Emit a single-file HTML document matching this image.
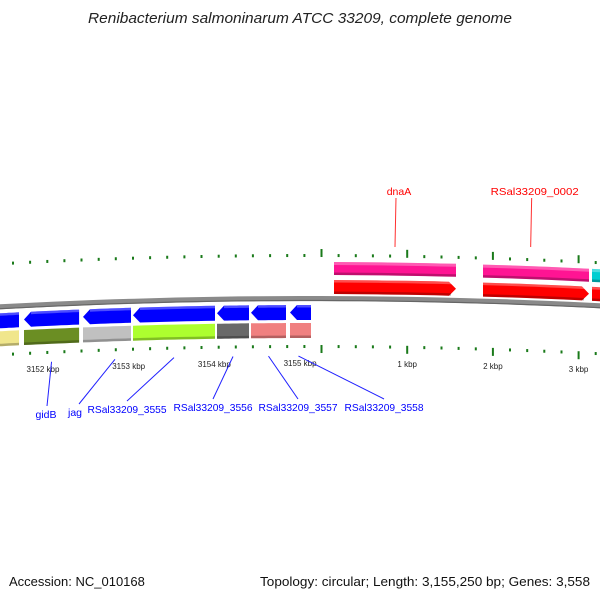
<!DOCTYPE html>
<html><head><meta charset="utf-8"><style>
html,body{margin:0;padding:0;background:#fff;}
svg{display:block;}
text{font-family:"Liberation Sans",sans-serif;}
</style></head><body>
<svg id="map" width="600" height="600" viewBox="0 0 600 600" xmlns="http://www.w3.org/2000/svg">
<text x="88" y="23" textLength="424" lengthAdjust="spacingAndGlyphs" font-size="14.5" font-style="italic" fill="#222">Renibacterium salmoninarum ATCC 33209, complete genome</text>
<text x="9" y="586" font-size="13" fill="#111">Accession: NC_010168</text>
<text x="260" y="586" textLength="330" lengthAdjust="spacingAndGlyphs" font-size="13" fill="#111">Topology: circular; Length: 3,155,250 bp; Genes: 3,558</text>
<g id="layer"></g>
</svg>
<script>
const genomeLength = 3155250;
// forward strand genes (bp)
const fwdStarts = [146, 1884, 3156];
const fwdEnds = [1569, 3121, 3600];
const fwdNames = ["dnaA", "RSal33209_0002", ""];
// reverse strand genes (bp)
const revStarts = [3151400, 3151779, 3152467, 3153050, 3154031, 3154427, 3154882];
const revEnds = [3151720, 3152421, 3153027, 3154007, 3154404, 3154836, 3155127];
const revNames = ["", "gidB", "jag", "RSal33209_3555", "RSal33209_3556", "RSal33209_3557", "RSal33209_3558"];
const revCogColors = ["#f0e68c", "#6b8e23", "#c0c0c0", "#adff2f", "#696969", "#f08080", "#f08080"];
const fwdCogColors = ["#ff1493", "#ff1493", "#00ced1"];
const kbpTicks = [3152000, 3153000, 3154000, 3155000, 1000, 2000, 3000];
const kbpLabels = ["3152 kbp", "3153 kbp", "3154 kbp", "3155 kbp", "1 kbp", "2 kbp", "3 kbp"];

const NS = "http://www.w3.org/2000/svg";
const layer = document.getElementById("layer");
const PX = 0.0857, X0 = 321.5, CX = 310, R = 5800;
function rel(p){ return p > genomeLength/2 ? p - genomeLength : p; }
function xOf(p){ return X0 + rel(p)*PX; }
function dy(x){ return (x-CX)*(x-CX)/(2*R); }
function mk(tag, attrs){ const e=document.createElementNS(NS,tag); for(const k in attrs) e.setAttribute(k,attrs[k]); layer.appendChild(e); return e; }
function band(x1,x2,t,b,head,dir){
  const pts=[]; const n=8;
  let a=x1, c=x2;
  if(dir===1) c=x2-head; if(dir===-1) a=x1+head;
  for(let i=0;i<=n;i++){const x=a+(c-a)*i/n; pts.push([x,t+dy(x)]);}
  if(dir===1) pts.push([x2,(t+b)/2+dy(x2)]);
  for(let i=n;i>=0;i--){const x=a+(c-a)*i/n; pts.push([x,b+dy(x)]);}
  if(dir===-1) pts.push([x1,(t+b)/2+dy(x1)]);
  return pts.map(p=>p[0].toFixed(1)+","+p[1].toFixed(1)).join(" ");
}
function curve(x1,x2,y){ let d=""; for(let i=0;i<=30;i++){const x=x1+(x2-x1)*i/30; d+=(i?"L":"M")+x.toFixed(1)+","+(y+dy(x)).toFixed(1);} return d; }

let e=mk("path",{d:curve(-10,610,298.5),stroke:"#8a8a8a","stroke-width":5,fill:"none"});


e=mk("path",{d:curve(-10,610,300.5),stroke:"#666","stroke-width":1.2,fill:"none"});



for(let p=genomeLength-5000; p<genomeLength+4000; p+=200){
  let q = p>=genomeLength ? p-genomeLength : p;
  if(p>genomeLength-200 && p<genomeLength) q=genomeLength-50;
  const x=xOf(q); if(x<-2||x>602) continue;
  const big = (q%1000===0);
  const d=dy(x);
  let t=mk("rect",{x:(x-1).toFixed(1),y:(big?249:254)+d,width:2,height:big?8:3,fill:"#1a7a1a"});
  
  
  t=mk("rect",{x:(x-1).toFixed(1),y:345+d,width:2,height:big?8:3,fill:"#1a7a1a"});
  
  
}
kbpTicks.forEach((p,i)=>{
  const x=xOf(p);
  const t=mk("text",{x:x,y:366+dy(x),"text-anchor":"middle","font-size":8,fill:"#222"});
  t.textContent=kbpLabels[i];
  
  
});

fwdStarts.forEach((s,i)=>{
  const x1=xOf(s), x2=xOf(fwdEnds[i]);
  let c=mk("polygon",{points:band(x1,x2,262,275,0,0),fill:fwdCogColors[i]});
  
  
  c=mk("polygon",{points:band(x1,x2,262,265,0,0),fill:"#fff",opacity:0.3});
  
  
  c=mk("polygon",{points:band(x1,x2,272.5,275,0,0),fill:"#000",opacity:0.25});
  
  
  const g=mk("polygon",{points:band(x1,x2,280,294,7,1),fill:"#ff0000"});
  
  
  c=mk("polygon",{points:band(x1,x2-3,280,282.5,0,0),fill:"#fff",opacity:0.3});
  
  
  c=mk("polygon",{points:band(x1,x2-5,291.5,294,0,0),fill:"#000",opacity:0.25});
  
  
  if(fwdNames[i]){
    const lx=x1+(x2-x1)*(i===0?0.5:0.45);
    const l=mk("line",{x1:lx+1,y1:198,x2:lx,y2:247,stroke:"#ff3030","stroke-width":1});
    
    
    const t=mk("text",{x:lx+4,y:195,"text-anchor":"middle","font-size":10.5,fill:"#ff0000"});
    if(fwdNames[i].length>6){ t.setAttribute("textLength","88"); t.setAttribute("lengthAdjust","spacingAndGlyphs"); }
    t.textContent=fwdNames[i];
    
    
  }
});

const labelX=[46,75,127,213,298,384], labelY=[414,412,409,407,407,407];
revStarts.forEach((s,i)=>{
  const x1=xOf(s), x2=xOf(revEnds[i]);
  let c=mk("polygon",{points:band(x1,x2,323,338,0,0),fill:revCogColors[i]});
  
  
  c=mk("polygon",{points:band(x1,x2,335.5,338,0,0),fill:"#000",opacity:0.25});
  
  
  const g=mk("polygon",{points:band(x1,x2,305,320,7,-1),fill:"#0000ff"});
  
  
  c=mk("polygon",{points:band(x1+7,x2,305,307.5,0,0),fill:"#fff",opacity:0.3});
  
  
  if(revNames[i]){
    const k=i-1;
    const fx=(x1+x2)/2 + (k===1?8:0) + (k===5?-2:0);
    const l=mk("line",{x1:fx,y1:356+dy(fx),x2:labelX[k]+(k===0?1:k===1?4:0),y2:labelY[k]-8,stroke:"#2020ff","stroke-width":1});
    
    
    const t=mk("text",{x:labelX[k],y:labelY[k]+4,"text-anchor":"middle","font-size":10.5,fill:"#0000ff"});
    if(revNames[i].length>6){ t.setAttribute("textLength","79"); t.setAttribute("lengthAdjust","spacingAndGlyphs"); }
    t.textContent=revNames[i];
    
    
  }
});
</script>
</body></html>
